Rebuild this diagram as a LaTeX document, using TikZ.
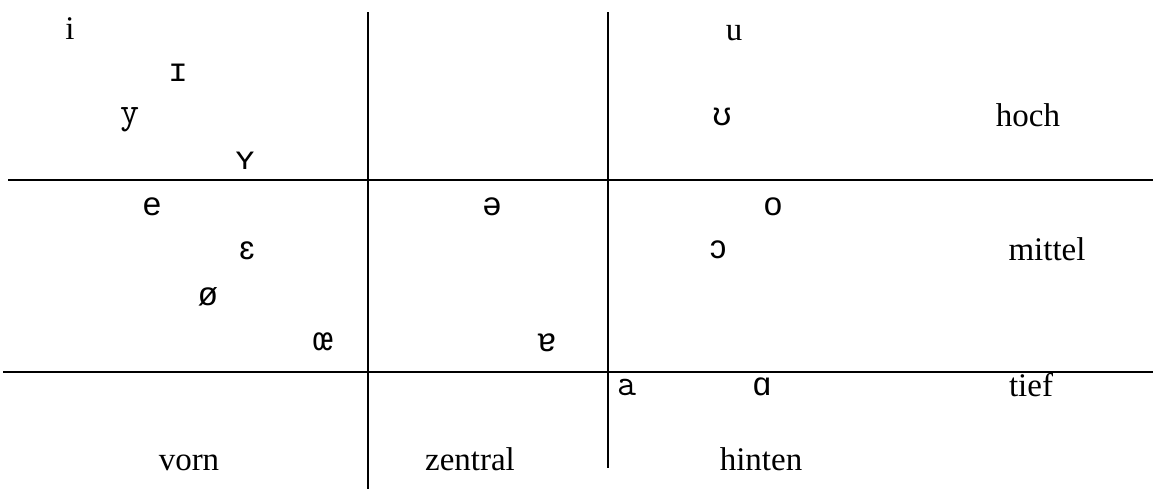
\documentclass[tikz,border=0pt]{standalone}
\usepackage{fontspec}
\setmainfont{Liberation Serif}
\setmonofont{Latin Modern Mono}
\newfontfamily\ipamono{Liberation Mono}
\newfontfamily\ipasans{Liberation Sans}
\begin{document}
\begin{tikzpicture}[x=0.5pt,y=-0.5pt,
  grid/.style={line width=1pt,black},
  lab/.style={inner sep=0pt,anchor=base,font=\fontsize{16.5}{19}\selectfont},
  serif/.style={lab},
  mono/.style={lab,font=\fontsize{16.5}{19}\selectfont\ipamono},
  tt/.style={lab,font=\fontsize{18.5}{19}\selectfont\ttfamily},
  sans/.style={lab,font=\fontsize{16.5}{19}\selectfont\ipasans}]
\useasboundingbox (0,0) rectangle (1153,489);
% grid lines
\coordinate (h1l) at (8,180);   \coordinate (h1r) at (1153,180);
\coordinate (h2l) at (3,372);   \coordinate (h2r) at (1153,372);
\coordinate (v1t) at (368,12);  \coordinate (v1b) at (368,489);
\coordinate (v2t) at (608,12);  \coordinate (v2b) at (608,468);
\draw[grid] (h1l) -- (h1r);
\draw[grid] (h2l) -- (h2r);
\draw[grid] (v1t) -- (v1b);
\draw[grid] (v2t) -- (v2b);
% high vowels
\node[serif] (i) at (70,39) {i};
\node[mono] (I) at (178,81) {ɪ};
\node[tt] (y) at (130,123) {y};
\node[mono] (Y) at (245,169) {ʏ};
\node[serif] (u) at (734,40) {u};
\node[sans] (U) at (722,125) {ʊ};
% mid vowels
\node[sans] (e) at (152,215) {e};
\node[sans] (E) at (247,259) {ɛ};
\node[sans] (oe) at (208,305) {ø};
\node[mono] (OE) at (323,350) {œ};
\node[mono] (schwa) at (492,215) {ə};
\node[mono] (turna) at (547,351) {ɐ};
\node[sans] (o) at (773,215) {o};
\node[sans] (O) at (718,258) {ɔ};
% low vowels
\node[tt] (a) at (627,395) {a};
\node[mono] (A) at (762,395) {ɑ};
% labels
\node[serif] (hoch) at (1028,126) {hoch};
\node[serif] (mittel) at (1047,260) {mittel};
\node[serif] (tief) at (1031,396) {tief};
\node[serif] (vorn) at (189,470) {vorn};
\node[serif] (zentral) at (470,470) {zentral};
\node[serif] (hinten) at (761,470) {hinten};
\end{tikzpicture}
\end{document}
